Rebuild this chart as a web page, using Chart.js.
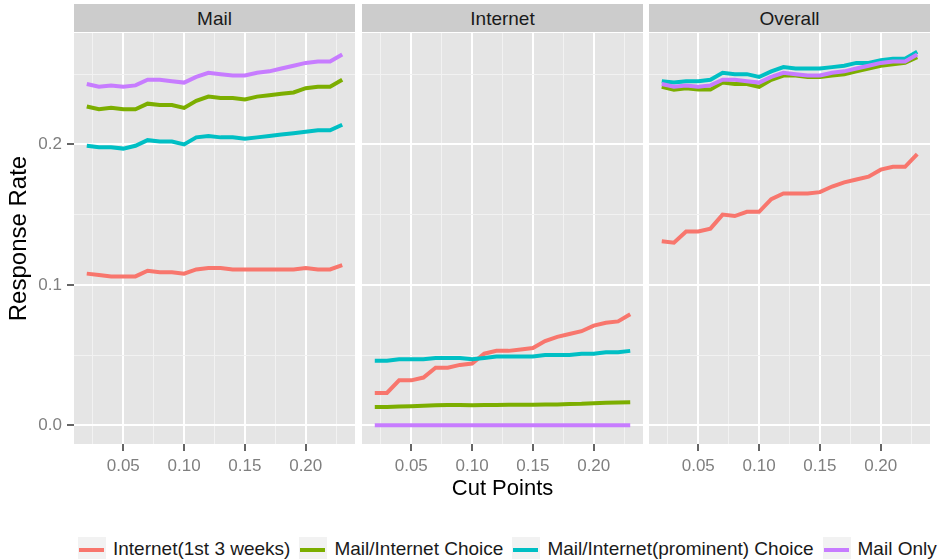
<!DOCTYPE html>
<html>
<head>
<meta charset="utf-8">
<title>Response Rate by Cut Points</title>
<script src="https://cdn.jsdelivr.net/npm/chart.js@4.4.1/dist/chart.umd.min.js"></script>
<style>
    html, body { margin: 0; padding: 0; background: #fff; }
    body { width: 941px; height: 559px; position: relative; overflow: hidden; font-family: "Liberation Sans", Arial, sans-serif; }
    canvas { position: absolute; top: 33px; }
    .strip { position: absolute; top: 4px; height: 28px; line-height: 29px; background: #cccccc; color: #1a1a1a; font-size: 19px; text-align: center; }
    #legend { position: absolute; left: 78px; top: 537px; display: flex; align-items: center; font-size: 19px; color: #1a1a1a; white-space: nowrap; }
    .item { display: flex; align-items: center; margin-right: 9px; }
    .key { position: relative; width: 28px; height: 24px; background: #f2f2f2; margin-right: 7px; }
    .key span { position: absolute; left: 1px; right: 2px; top: 11px; height: 4px; }
</style>
</head>
<body>
<div class="strip" style="left:74px;width:281px;">Mail</div>
<div class="strip" style="left:362px;width:281px;">Internet</div>
<div class="strip" style="left:649px;width:281px;">Overall</div>
<canvas id="mailChart" width="355" height="486" style="left:0;"></canvas>
<canvas id="internetChart" width="281" height="486" style="left:362px;"></canvas>
<canvas id="overallChart" width="281" height="486" style="left:649px;"></canvas>
<div id="legend"></div>

<script>
// data
var cutPoints = [0.02, 0.03, 0.04, 0.05, 0.06, 0.07, 0.08, 0.09, 0.10, 0.11, 0.12,
                 0.13, 0.14, 0.15, 0.16, 0.17, 0.18, 0.19, 0.20, 0.21, 0.22, 0.23];
var seriesNames = ['Internet(1st 3 weeks)', 'Mail/Internet Choice', 'Mail/Internet(prominent) Choice', 'Mail Only'];
var xMajorTicks = [0.05, 0.10, 0.15, 0.20];
var xMinorTicks = [0.025, 0.075, 0.125, 0.175, 0.225];
var yMajorTicks = [0.0, 0.1, 0.2];
var yMinorTicks = [0.05, 0.15, 0.25];

var mailInternet = [0.108, 0.107, 0.106, 0.106, 0.106, 0.110, 0.109, 0.109, 0.108, 0.111, 0.112,
                    0.112, 0.111, 0.111, 0.111, 0.111, 0.111, 0.111, 0.112, 0.111, 0.111, 0.114];
var mailChoice = [0.227, 0.225, 0.226, 0.225, 0.225, 0.229, 0.228, 0.228, 0.226, 0.231, 0.234,
                  0.233, 0.233, 0.232, 0.234, 0.235, 0.236, 0.237, 0.240, 0.241, 0.241, 0.246];
var mailProminent = [0.199, 0.198, 0.198, 0.197, 0.199, 0.203, 0.202, 0.202, 0.200, 0.205, 0.206,
                     0.205, 0.205, 0.204, 0.205, 0.206, 0.207, 0.208, 0.209, 0.210, 0.210, 0.214];
var mailOnly = [0.243, 0.241, 0.242, 0.241, 0.242, 0.246, 0.246, 0.245, 0.244, 0.248, 0.251,
                0.250, 0.249, 0.249, 0.251, 0.252, 0.254, 0.256, 0.258, 0.259, 0.259, 0.264];

var internetInternet = [0.023, 0.023, 0.032, 0.032, 0.034, 0.041, 0.041, 0.043, 0.044, 0.051, 0.053,
                        0.053, 0.054, 0.055, 0.060, 0.063, 0.065, 0.067, 0.071, 0.073, 0.074, 0.079];
var internetChoice = [0.0131, 0.0131, 0.0134, 0.0136, 0.0139, 0.0143, 0.0145, 0.0144, 0.0143, 0.0144, 0.0145,
                      0.0146, 0.0146, 0.0147, 0.0148, 0.0149, 0.0151, 0.0153, 0.0157, 0.0160, 0.0162, 0.0164];
var internetProminent = [0.046, 0.046, 0.047, 0.047, 0.047, 0.048, 0.048, 0.048, 0.047, 0.048, 0.049,
                         0.049, 0.049, 0.049, 0.050, 0.050, 0.050, 0.051, 0.051, 0.052, 0.052, 0.053];
var internetMailOnly = [0, 0, 0, 0, 0, 0, 0, 0, 0, 0, 0,
                        0, 0, 0, 0, 0, 0, 0, 0, 0, 0, 0];

var overallInternet = [0.131, 0.130, 0.138, 0.138, 0.140, 0.150, 0.149, 0.152, 0.152, 0.161, 0.165,
                       0.165, 0.165, 0.166, 0.170, 0.173, 0.175, 0.177, 0.182, 0.184, 0.184, 0.193];
var overallChoice = [0.241, 0.239, 0.240, 0.239, 0.239, 0.244, 0.243, 0.243, 0.241, 0.246, 0.249,
                     0.249, 0.248, 0.248, 0.249, 0.250, 0.252, 0.254, 0.256, 0.257, 0.258, 0.262];
var overallProminent = [0.245, 0.244, 0.245, 0.245, 0.246, 0.251, 0.250, 0.250, 0.248, 0.252, 0.255,
                        0.254, 0.254, 0.254, 0.255, 0.256, 0.258, 0.258, 0.260, 0.261, 0.261, 0.266];
var overallMailOnly = [0.243, 0.241, 0.242, 0.241, 0.242, 0.246, 0.246, 0.245, 0.244, 0.248, 0.251,
                       0.250, 0.249, 0.249, 0.251, 0.252, 0.254, 0.256, 0.258, 0.259, 0.259, 0.264];

(function() {
    'use strict';

    var seriesColors = ['#F8766D', '#7CAE00', '#00BFC4', '#C77CFF'];
    var fontFamily = '"Liberation Sans", Arial, sans-serif';

    // ggplot-style 5% expansion of the data range
    var allValues = [].concat(mailInternet, mailChoice, mailProminent, mailOnly,
        internetInternet, internetChoice, internetProminent, internetMailOnly,
        overallInternet, overallChoice, overallProminent, overallMailOnly);
    var yLo = Math.min.apply(null, allValues);
    var yHi = Math.max.apply(null, allValues);
    var xLo = cutPoints[0];
    var xHi = cutPoints[cutPoints.length - 1];
    var xPad = (xHi - xLo) * 0.05;
    var yPad = (yHi - yLo) * 0.05;

    var xTicks = xMajorTicks.concat(xMinorTicks).sort(function(a, b) { return a - b; });
    var yTicks = yMajorTicks.concat(yMinorTicks).sort(function(a, b) { return a - b; });

    function isMajor(list, v) {
        return list.some(function(m) { return Math.abs(m - v) < 1e-9; });
    }

    var panelBackground = {
        id: 'panelBackground',
        beforeDraw: function(chart) {
            var a = chart.chartArea;
            var ctx = chart.ctx;
            ctx.save();
            ctx.fillStyle = '#e5e5e5';
            ctx.fillRect(a.left, a.top, a.right - a.left, a.bottom - a.top);
            ctx.restore();
        }
    };

    function makePanel(canvasId, seriesValues, showYLabels, xTitle) {
        var datasets = seriesValues.map(function(values, i) {
            return {
                label: seriesNames[i],
                data: values.map(function(v, j) { return { x: cutPoints[j], y: v }; }),
                borderColor: seriesColors[i],
                backgroundColor: seriesColors[i],
                borderWidth: 4,
                pointRadius: 0,
                tension: 0,
                fill: false,
                order: seriesValues.length - i
            };
        });

        return new Chart(document.getElementById(canvasId), {
            type: 'line',
            data: { datasets: datasets },
            plugins: [panelBackground],
            options: {
                responsive: false,
                animation: false,
                events: [],
                layout: { padding: 0, autoPadding: false },
                plugins: {
                    legend: { display: false },
                    tooltip: { enabled: false }
                },
                scales: {
                    x: {
                        type: 'linear',
                        min: xLo - xPad,
                        max: xHi + xPad,
                        afterBuildTicks: function(axis) {
                            axis.ticks = xTicks.map(function(v) { return { value: v }; });
                        },
                        afterFit: function(axis) {
                            axis.height = 75;
                            axis.paddingLeft = 0;
                            axis.paddingRight = 0;
                        },
                        border: { display: false },
                        grid: {
                            color: function(ctx) {
                                return isMajor(xMajorTicks, ctx.tick.value) ? '#ffffff' : '#f2f2f2';
                            },
                            lineWidth: function(ctx) {
                                return isMajor(xMajorTicks, ctx.tick.value) ? 2 : 1;
                            },
                            tickColor: function(ctx) {
                                return isMajor(xMajorTicks, ctx.tick.value) ? '#666666' : 'rgba(0,0,0,0)';
                            },
                            tickWidth: 2,
                            tickLength: 7
                        },
                        ticks: {
                            autoSkip: false,
                            maxRotation: 0,
                            padding: 5,
                            color: '#7f7f7f',
                            font: { family: fontFamily, size: 17 },
                            callback: function(value) {
                                return isMajor(xMajorTicks, value) ? value.toFixed(2) : '';
                            }
                        },
                        title: {
                            display: !!xTitle,
                            text: xTitle || '',
                            color: '#000000',
                            font: { family: fontFamily, size: 22 },
                            padding: { top: 0, bottom: 17 }
                        }
                    },
                    y: {
                        type: 'linear',
                        min: yLo - yPad,
                        max: yHi + yPad,
                        afterBuildTicks: function(axis) {
                            axis.ticks = yTicks.map(function(v) { return { value: v }; });
                        },
                        afterFit: function(axis) {
                            axis.width = showYLabels ? 74 : 0;
                            axis.paddingTop = 0;
                            axis.paddingBottom = 0;
                        },
                        border: { display: false },
                        grid: {
                            color: function(ctx) {
                                return isMajor(yMajorTicks, ctx.tick.value) ? '#ffffff' : '#f2f2f2';
                            },
                            lineWidth: function(ctx) {
                                return isMajor(yMajorTicks, ctx.tick.value) ? 2 : 1;
                            },
                            drawTicks: showYLabels,
                            tickColor: function(ctx) {
                                return isMajor(yMajorTicks, ctx.tick.value) ? '#666666' : 'rgba(0,0,0,0)';
                            },
                            tickWidth: 2,
                            tickLength: 7
                        },
                        ticks: {
                            display: showYLabels,
                            autoSkip: false,
                            padding: 5,
                            color: '#7f7f7f',
                            font: { family: fontFamily, size: 17 },
                            callback: function(value) {
                                return isMajor(yMajorTicks, value) ? value.toFixed(1) : '';
                            }
                        },
                        title: {
                            display: showYLabels,
                            text: 'Response Rate',
                            color: '#000000',
                            font: { family: fontFamily, size: 24 },
                            padding: { top: 5, bottom: 0 }
                        }
                    }
                }
            }
        });
    }

    makePanel('mailChart', [mailInternet, mailChoice, mailProminent, mailOnly], true, null);
    makePanel('internetChart', [internetInternet, internetChoice, internetProminent, internetMailOnly], false, 'Cut Points');
    makePanel('overallChart', [overallInternet, overallChoice, overallProminent, overallMailOnly], false, null);

    // legend
    var legend = document.getElementById('legend');
    seriesNames.forEach(function(name, i) {
        var item = document.createElement('div');
        item.className = 'item';
        var key = document.createElement('div');
        key.className = 'key';
        var line = document.createElement('span');
        line.style.background = seriesColors[i];
        key.appendChild(line);
        var label = document.createElement('div');
        label.textContent = name;
        item.appendChild(key);
        item.appendChild(label);
        legend.appendChild(item);
    });
})();
</script>
</body>
</html>
